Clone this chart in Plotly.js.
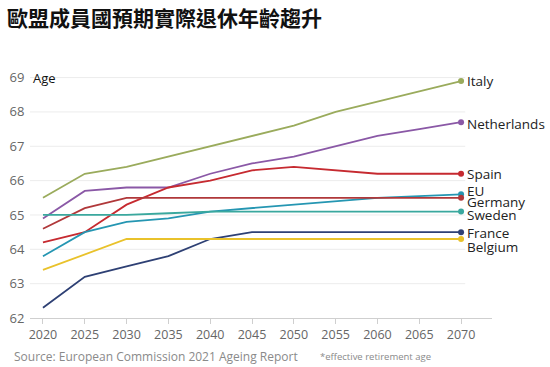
<!DOCTYPE html>
<html>
<head>
<meta charset="utf-8">
<script src="https://cdn.plot.ly/plotly-3.0.1.min.js"></script>
<style>html,body{margin:0;padding:0;background:#fff;}#chart{width:550px;height:367px;}</style>
</head>
<body>
<div id="chart"></div>
<script>
const years = [2020, 2025, 2030, 2035, 2040, 2045, 2050, 2055, 2060, 2065, 2070];
const countries = ["Italy", "Netherlands", "Spain", "EU", "Germany", "Sweden", "France", "Belgium"];
const italy       = [65.5, 66.2, 66.4, 66.7, 67.0, 67.3, 67.6, 68.0, 68.3, 68.6, 68.9];
const netherlands = [64.9, 65.7, 65.8, 65.8, 66.2, 66.5, 66.7, 67.0, 67.3, 67.5, 67.7];
const spain       = [64.2, 64.5, 65.3, 65.8, 66.0, 66.3, 66.4, 66.3, 66.2, 66.2, 66.2];
const eu          = [63.8, 64.5, 64.8, 64.9, 65.1, 65.2, 65.3, 65.4, 65.5, 65.55, 65.6];
const germany     = [64.6, 65.2, 65.5, 65.5, 65.5, 65.5, 65.5, 65.5, 65.5, 65.5, 65.5];
const sweden      = [65.0, 65.0, 65.0, 65.05, 65.1, 65.1, 65.1, 65.1, 65.1, 65.1, 65.1];
const france      = [62.3, 63.2, 63.5, 63.8, 64.3, 64.5, 64.5, 64.5, 64.5, 64.5, 64.5];
const belgium     = [63.4, 63.85, 64.3, 64.3, 64.3, 64.3, 64.3, 64.3, 64.3, 64.3, 64.3];
const yTicks = [62, 63, 64, 65, 66, 67, 68, 69];
const xTicks = [2020, 2025, 2030, 2035, 2040, 2045, 2050, 2055, 2060, 2065, 2070];

const series = [italy, netherlands, spain, eu, germany, sweden, france, belgium];
const colors = ["#9aab5c", "#8a58a6", "#c62a30", "#2596b2", "#b0383a", "#3aa89e", "#2e4074", "#e9c22b"];
const labelShift = [0, -2, 0, 3, -4, -3, -1, -8];

const traces = [];
series.forEach((s, i) => {
  traces.push({
    x: years, y: s, type: "scatter", mode: "lines",
    line: {color: colors[i], width: 1.8},
    hoverinfo: "skip", showlegend: false
  });
});
series.forEach((s, i) => {
  traces.push({
    x: [years[years.length - 1]], y: [s[s.length - 1]], type: "scatter", mode: "markers",
    marker: {color: colors[i], size: 6},
    hoverinfo: "skip", showlegend: false
  });
});

const W = 550, H = 367, M = {l: 30, r: 58, t: 69, b: 49};
const pw = W - M.l - M.r, ph = H - M.t - M.b;

const annotations = countries.map((c, i) => ({
  x: years[years.length - 1], y: series[i][series[i].length - 1],
  xref: "x", yref: "y", text: c, showarrow: false,
  xanchor: "left", yanchor: "middle", xshift: 5, yshift: labelShift[i],
  borderpad: 0,
  font: {family: "Open Sans, Noto Sans, sans-serif", size: 13.5, color: "#222"}
}));
annotations.push({
  x: 2018.6, y: 69, xref: "x", yref: "y", text: "Age", showarrow: false,
  xanchor: "left", yanchor: "middle",
  font: {family: "Open Sans, Noto Sans, sans-serif", size: 13, color: "#111"}
});
const footer = [
  {px: 12, py: 356, text: "Source: European Commission 2021 Ageing Report", size: 12},
  {px: 318, py: 356, text: "*effective retirement age", size: 9.5}
];
footer.forEach(f => annotations.push({
  x: (f.px - M.l) / pw, y: (H - M.b - f.py) / ph, xref: "paper", yref: "paper",
  text: f.text, showarrow: false, xanchor: "left", yanchor: "middle",
  font: {family: "Open Sans, Noto Sans, sans-serif", size: f.size, color: "#8a8a8a"}
}));

const shapes = yTicks.filter(v => v > yTicks[0]).map(v => ({
  type: "line", xref: "x", yref: "y", x0: 2018.45, x1: 2070.5, y0: v, y1: v,
  line: {color: "#ececec", width: 1}, layer: "below"
}));

const layout = {
  width: W, height: H,
  margin: M,
  paper_bgcolor: "#fff", plot_bgcolor: "#fff",
  showlegend: false,
  hovermode: false,
  title: {
    text: "<b>歐盟成員國預期實際退休年齡趨升</b>",
    x: 7 / W, xref: "container", xanchor: "left",
    y: 1 - 19 / H, yref: "container", yanchor: "middle",
    font: {family: "Noto Sans CJK TC, sans-serif", size: 21, color: "#111"}
  },
  xaxis: {
    range: [2018.45, 2073.7], tickvals: xTicks, ticktext: xTicks.map(String),
    showgrid: false, zeroline: false, showline: true, linecolor: "#cfcfcf", linewidth: 1,
    ticks: "outside", ticklen: 5, tickcolor: "#cfcfcf",
    tickfont: {family: "Open Sans, Noto Sans, sans-serif", size: 12.5, color: "#666"}
  },
  yaxis: {
    range: [62, 69.25], tickvals: yTicks, ticktext: yTicks.map(String),
    showgrid: false, zeroline: false, showline: false,
    ticks: "outside", ticklen: 2, tickcolor: "rgba(0,0,0,0)",
    tickfont: {family: "Open Sans, Noto Sans, sans-serif", size: 13, color: "#666"}
  },
  shapes: shapes,
  annotations: annotations
};

Plotly.newPlot("chart", traces, layout, {staticPlot: true, displayModeBar: false});
</script>
</body>
</html>
